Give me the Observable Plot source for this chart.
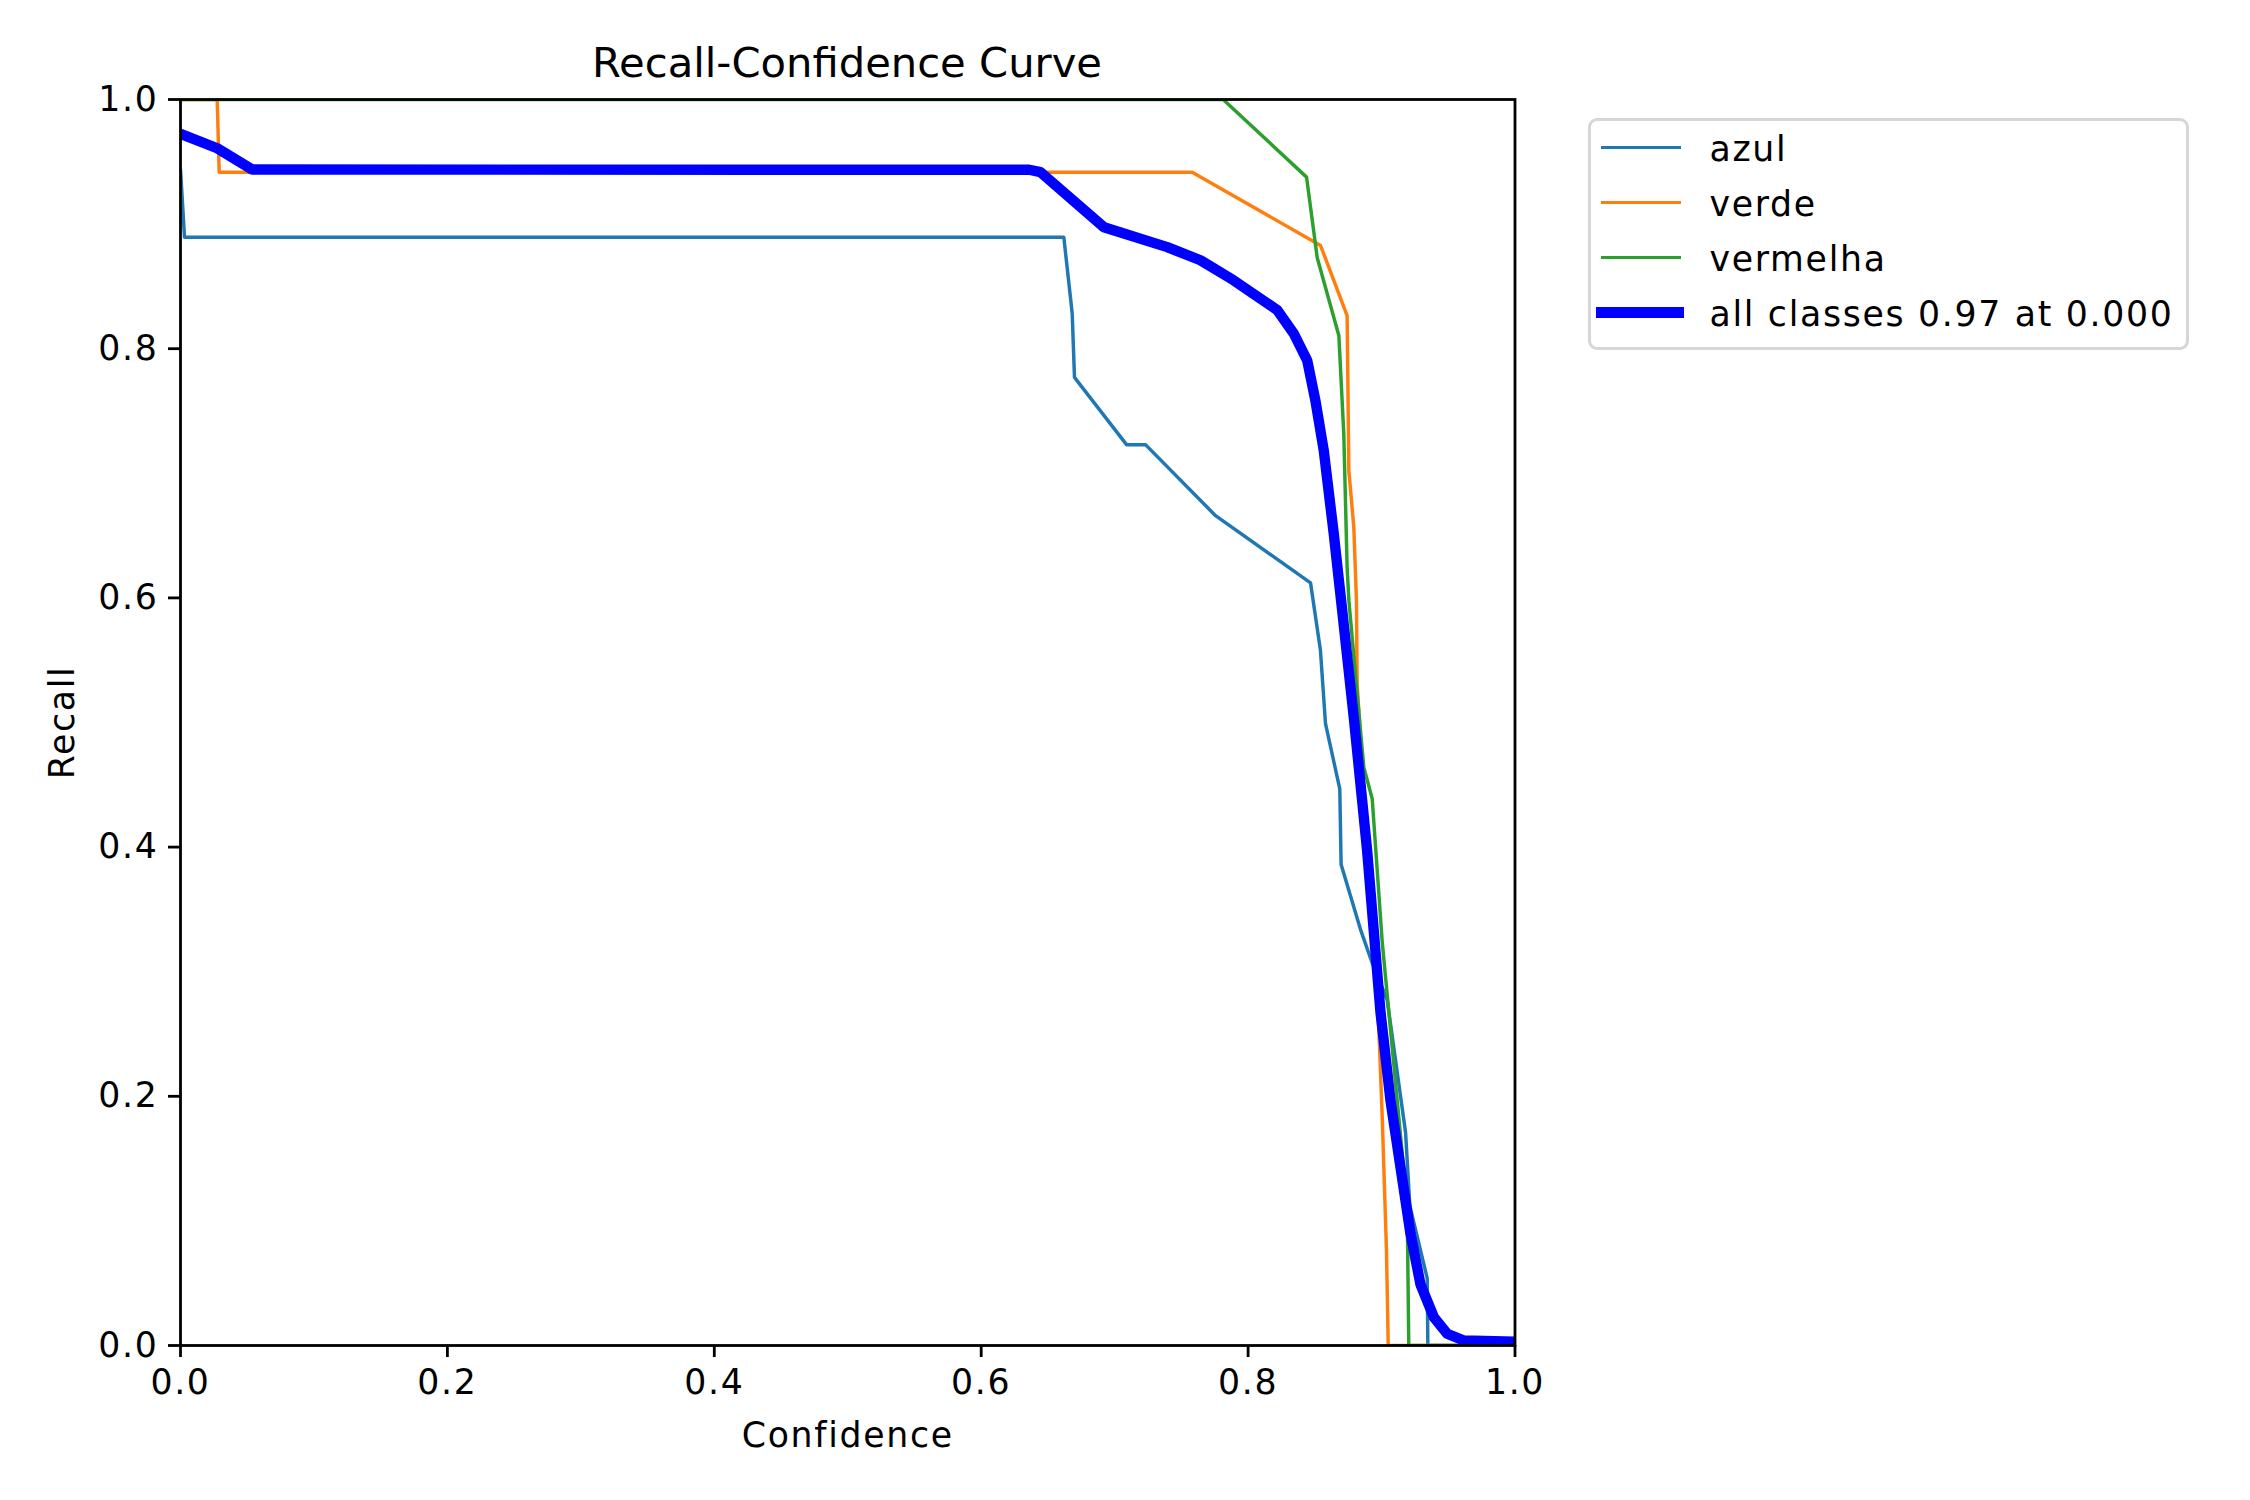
<!DOCTYPE html>
<html>
<head>
<meta charset="utf-8">
<script src="https://cdn.jsdelivr.net/npm/d3@7"></script>
<script src="https://cdn.jsdelivr.net/npm/@observablehq/plot@0.6"></script>
<style>
  html, body { margin: 0; padding: 0; background: white; }
  #wrap { position: relative; width: 2250px; height: 1500px; background: white; font-family: "DejaVu Sans", sans-serif; color: black; overflow: hidden; }
  #title { width: 1694px; height: 80px; box-sizing: border-box; padding-top: 42px; font-size: 41.7px; line-height: 42px; text-align: center; white-space: nowrap; }
  #legend { position: absolute; left: 1588px; top: 118px; width: 601px; height: 232px; box-sizing: border-box; border: 3.5px solid #d6d6d6; border-radius: 9px; background: white; }
  .lg-line { position: absolute; }
  .lg-text { position: absolute; font-size: 34.7px; line-height: 40px; white-space: nowrap; letter-spacing: 1.7px; }
</style>
</head>
<body>
<div id="wrap">
  <div id="title"></div>
  <div id="chart"></div>
  <div id="legend"></div>
</div>
<script>
// ---- data ----
const titleText = "Recall-Confidence Curve";
const xLabel = "Confidence";
const yLabel = "Recall";
const xTicks = [0, 0.2, 0.4, 0.6, 0.8, 1.0];
const yTicks = [0, 0.2, 0.4, 0.6, 0.8, 1.0];
const seriesNames = ["azul", "verde", "vermelha"];
const allLabel = "all classes 0.97 at 0.000";

const azul = [[0,0.944],[0.003,0.8895],[0.6619,0.8895],[0.6669,0.841],[0.6682,0.828],[0.6699,0.777],[0.7089,0.723],[0.7231,0.723],[0.7756,0.666],[0.8468,0.612],[0.8542,0.558],[0.858,0.499],[0.8687,0.4468],[0.8697,0.386],[0.8842,0.334],[0.893,0.307],[0.9042,0.2775],[0.918,0.171],[0.9212,0.112],[0.9342,0.054],[0.9347,0],[1,0]];
const verde = [[0,1],[0.0275,1],[0.029,0.9417],[0.7581,0.9417],[0.8543,0.8828],[0.8742,0.8266],[0.8755,0.702],[0.8792,0.657],[0.8812,0.598],[0.8817,0.531],[0.898,0.2535],[0.9005,0.1836],[0.9037,0.076],[0.905,0],[1,0]];
const vermelha = [[0,1],[0.7813,1],[0.8438,0.9377],[0.8518,0.873],[0.868,0.8106],[0.8717,0.7317],[0.8742,0.6246],[0.8755,0.598],[0.8867,0.464],[0.893,0.4388],[0.9005,0.324],[0.9192,0.112],[0.9204,0],[1,0]];
const allClasses = [[0,0.9725],[0.0275,0.9609],[0.0537,0.9438],[0.636,0.9436],[0.6444,0.9417],[0.692,0.8975],[0.7394,0.8815],[0.7643,0.871],[0.789,0.855],[0.8218,0.831],[0.8343,0.812],[0.8443,0.7905],[0.8505,0.758],[0.8567,0.7183],[0.8642,0.6514],[0.8705,0.59],[0.8792,0.504],[0.8855,0.437],[0.8892,0.397],[0.8992,0.2676],[0.9067,0.1966],[0.9142,0.143],[0.9217,0.0896],[0.9292,0.049],[0.9392,0.0227],[0.9492,0.0094],[0.9617,0.004],[1.0,0.003]];

// ---- styles ----
const colorRange = ["#1f77b4", "#ff7f0e", "#2ca02c", "#0000ff"];
const thinWidth = 3.47, thickWidth = 10.4;

const toRows = (name, pts) => pts.map(([x, y]) => ({series: name, x, y}));
const classRows = [
  ...toRows(seriesNames[0], azul),
  ...toRows(seriesNames[1], verde),
  ...toRows(seriesNames[2], vermelha)
];
const allRows = toRows(allLabel, allClasses);

document.getElementById("title").textContent = titleText;

const chart = Plot.plot({
  width: 2250,
  height: 1420,
  marginTop: 19,
  marginBottom: 155,
  marginLeft: 180,
  marginRight: 735.5,
  style: {fontFamily: "DejaVu Sans", fontSize: "34.7px", color: "black", background: "white", overflow: "visible", letterSpacing: "1.7px"},
  x: {domain: [0, 1]},
  y: {domain: [0, 1]},
  color: {domain: [...seriesNames, allLabel], range: colorRange},
  marks: [
    Plot.line(classRows, {x: "x", y: "y", z: "series", stroke: "series", strokeWidth: thinWidth, clip: true, strokeLinejoin: "round", strokeLinecap: "butt"}),
    Plot.line(allRows, {x: "x", y: "y", stroke: "series", strokeWidth: thickWidth, clip: true, strokeLinejoin: "round", strokeLinecap: "round"}),
    Plot.axisX({ticks: xTicks, tickFormat: d => d.toFixed(1), tickSize: 12, tickPadding: 12, strokeWidth: 2.8, fontSize: 34.7, label: null}),
    Plot.axisY({ticks: yTicks, tickFormat: d => d.toFixed(1), tickSize: 12, tickPadding: 10, strokeWidth: 2.8, fontSize: 34.7, label: null}),
    Plot.frame({stroke: "black", strokeWidth: 2.8}),
    Plot.text([xLabel], {text: d => d, frameAnchor: "bottom", textAnchor: "middle", lineAnchor: "middle", dy: 90, fontSize: 34.7, fill: "black"}),
    Plot.text([yLabel], {text: d => d, frameAnchor: "left", textAnchor: "middle", lineAnchor: "middle", dx: -118, rotate: -90, fontSize: 34.7, fill: "black"})
  ]
});
document.getElementById("chart").appendChild(chart);

// ---- legend ----
const legend = document.getElementById("legend");
const legendItems = [...seriesNames, allLabel];
const rowCenters = [26.5, 81.5, 136.5, 191.5];
legendItems.forEach((label, i) => {
  const thick = i === legendItems.length - 1;
  const w = thick ? thickWidth : thinWidth;
  const line = document.createElement("div");
  line.className = "lg-line";
  line.style.left = (thick ? 5 : 9.5) + "px";
  line.style.width = (thick ? 87.5 : 80.5) + "px";
  line.style.height = w + "px";
  line.style.top = (rowCenters[i] - w / 2) + "px";
  line.style.background = colorRange[i];
  legend.appendChild(line);
  const t = document.createElement("div");
  t.className = "lg-text";
  t.style.left = "118.5px";
  t.style.top = (rowCenters[i] - 19) + "px";
  t.textContent = label;
  legend.appendChild(t);
});
</script>
</body>
</html>
